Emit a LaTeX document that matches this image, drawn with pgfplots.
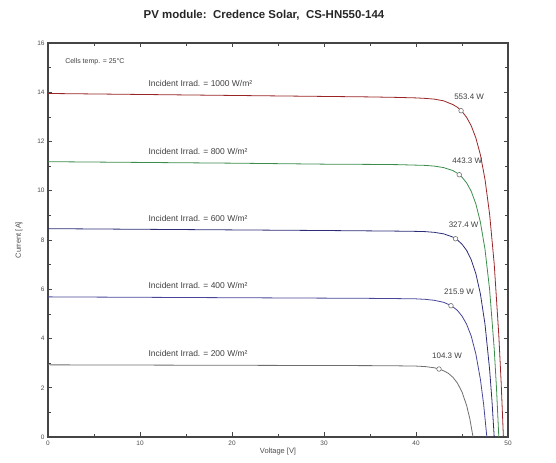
\documentclass[border=0pt]{standalone}
\usepackage{fontspec}
\setmainfont{Liberation Sans}
\usepackage{pgfplots}
\pgfplotsset{compat=1.18}

\definecolor{cA}{HTML}{9A2526}
\definecolor{cB}{HTML}{3C8C4C}
\definecolor{cC}{HTML}{2C2C78}
\definecolor{cD}{HTML}{46469A}
\definecolor{cE}{HTML}{6E6E6E}
\definecolor{axgray}{HTML}{454545}

\begin{document}
\begin{tikzpicture}[x=1bp,y=1bp]
\useasboundingbox (-48,-26) rectangle (508,437);
\node[font=\fontsize{11.5}{13}\selectfont\bfseries, text=black!85] at (216,422)
  {PV module:\ \ Credence Solar,\ \ CS-HN550-144};
\begin{axis}[
    at={(0,0)}, anchor=south west,
    width=460bp, height=394bp, scale only axis,
    xmin=0, xmax=50, ymin=0, ymax=16,
    xtick={0,10,...,50}, ytick={0,2,...,16},
    minor x tick num=1, minor y tick num=1,
    tick align=inside,
    major tick length=4.5bp, minor tick length=3bp,
    axis line style={axgray, line width=1.6pt},
    every tick/.style={axgray, line width=0.7pt},
    /pgf/number format/assume math mode=true,
    tick label style={font=\fontsize{6.5}{8}\selectfont, text=black!70},
    xlabel={Voltage [V]}, ylabel={Current [A]},
    label style={font=\fontsize{7.5}{9}\selectfont, text=black!70},
    xlabel style={yshift=4bp},
    ylabel style={yshift=8bp},
    every axis plot/.append style={line width=0.8pt, mark=none},
]
% 1000 W/m2
\addplot[cA] coordinates {(0,13.95) (10,13.91) (20,13.87) (30,13.83) (35,13.81) (38,13.79)
 (40,13.77) (41,13.75) (42,13.72) (43,13.65) (44,13.50) (44.5,13.39) (45,13.22) (45.5,12.98)
 (46,12.64) (46.5,12.15) (47,11.46) (47.5,10.46) (48,9.05) (48.5,7.03) (49,4.13) (49.25,2.25) (49.5,0)};
% 800 W/m2
\addplot[cB] coordinates {(0,11.18) (10,11.15) (20,11.12) (30,11.08) (35,11.07) (38,11.06)
 (40,11.04) (41,11.03) (42,11.00) (43,10.94) (44,10.82) (44.5,10.71) (45,10.55) (45.5,10.32)
 (46,9.98) (46.5,9.47) (47,8.72) (47.5,7.62) (48,5.99) (48.5,3.58) (48.75,1.97) (49,0)};
% 600 W/m2
\addplot[cC] coordinates {(0,8.46) (10,8.435) (20,8.41) (30,8.385) (35,8.37) (38,8.36)
 (40,8.35) (41,8.34) (42,8.31) (43,8.25) (44,8.12) (44.5,8.00) (45,7.83) (45.5,7.58)
 (46,7.20) (46.5,6.64) (47,5.81) (47.5,4.58) (48,2.74) (48.25,1.51) (48.5,0)};
% 400 W/m2
\addplot[cD] coordinates {(0,5.69) (10,5.673) (20,5.656) (30,5.639) (35,5.63) (38,5.62)
 (40,5.61) (41,5.59) (42,5.55) (43,5.47) (43.5,5.39) (44,5.29) (44.5,5.14) (45,4.91)
 (45.5,4.58) (46,4.10) (46.5,3.38) (47,2.34) (47.35,1.33) (47.7,0)};
% 200 W/m2
\addplot[cE] coordinates {(0,2.93) (10,2.921) (20,2.912) (30,2.903) (35,2.898) (38,2.89)
 (40,2.88) (41,2.86) (42,2.81) (42.5,2.76) (43,2.69) (43.5,2.59) (44,2.43) (44.5,2.19)
 (45,1.83) (45.5,1.28) (45.85,0.74) (46.2,0)};
% maximum power points
\addplot[only marks, mark=*, mark size=2.3pt, mark options={fill=white, draw=black!55, line width=0.6pt}]
 coordinates {(44.9,13.25) (44.7,10.65) (44.3,8.05) (43.8,5.33) (42.5,2.76)};

\begin{scope}[every node/.style={font=\fontsize{8.5}{10}\selectfont, text=black!75, anchor=west}]
\node[font=\fontsize{7}{8}\selectfont] at (axis cs:1.5,15.25) {Cells temp. = 25°C};
\node at (axis cs:10.55,14.35) {Incident Irrad. = 1000 W/m²};
\node at (axis cs:10.55,11.60) {Incident Irrad. = 800 W/m²};
\node at (axis cs:10.55,8.88) {Incident Irrad. = 600 W/m²};
\node at (axis cs:10.55,6.15) {Incident Irrad. = 400 W/m²};
\node at (axis cs:10.55,3.41) {Incident Irrad. = 200 W/m²};
\end{scope}
\begin{scope}[every node/.style={font=\fontsize{8}{9}\selectfont, text=black!75, anchor=west}]
\node at (axis cs:43.78,13.80) {553.4 W};
\node at (axis cs:43.58,11.20) {443.3 W};
\node at (axis cs:43.18,8.60) {327.4 W};
\node at (axis cs:42.68,5.88) {215.9 W};
\node at (axis cs:41.38,3.31) {104.3 W};
\end{scope}
\end{axis}
\end{tikzpicture}
\end{document}
